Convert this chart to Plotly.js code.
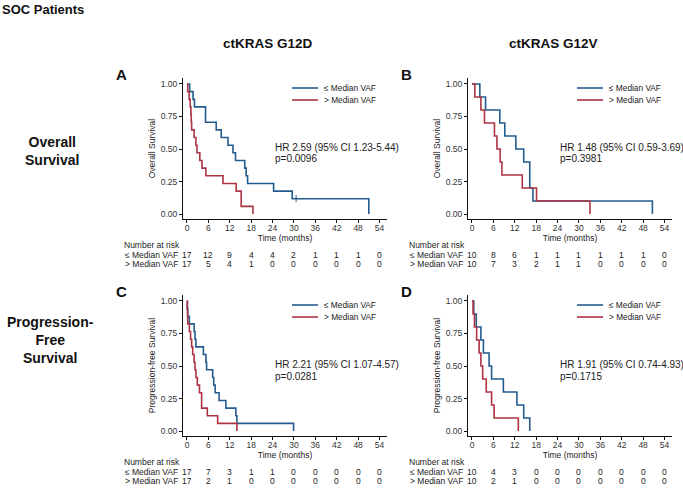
<!DOCTYPE html>
<html><head><meta charset="utf-8">
<script src="https://cdn.plot.ly/plotly-3.0.1.min.js"></script>
<style>html,body{margin:0;padding:0;background:#fff}#chart{width:683px;height:488px}</style>
</head><body><div id="chart"></div>
<script>
// ---------- data ----------
const timeTicks = [0, 6, 12, 18, 24, 30, 36, 42, 48, 54];
const survTicks = [0, 0.25, 0.5, 0.75, 1];
const groupNames = ['≤ Median VAF', '> Median VAF'];
const columnTitles = ['ctKRAS G12D', 'ctKRAS G12V'];
const rowTitles = ['Overall<br>Survival', 'Progression-<br>Free<br>Survival'];
const yTitles = ['Overall Survival', 'Progression-free Survival'];
const panelLetters = ['A', 'B', 'C', 'D'];

// Panel A: OS, ctKRAS G12D
const osG12D_low_t  = [0, 0.75, 1.7, 2.1, 5.2, 8.2, 9.6, 11.5, 12.9, 13.6, 16.2, 16.6, 17.0, 24.3, 29.5, 51.0];
const osG12D_low_s  = [1, 0.941, 0.882, 0.824, 0.706, 0.647, 0.588, 0.529, 0.471, 0.412, 0.353, 0.294, 0.235, 0.176, 0.118, 0];
const osG12D_low_censor_t = [30.6];
const osG12D_low_censor_s = [0.118];
const osG12D_high_t = [0, 0.2, 0.6, 0.9, 1.1, 1.2, 1.3, 2.0, 2.5, 2.8, 3.6, 4.2, 5.3, 10.1, 13.8, 15.2, 18.5];
const osG12D_high_s = [1, 0.941, 0.882, 0.824, 0.765, 0.706, 0.647, 0.588, 0.529, 0.471, 0.412, 0.353, 0.294, 0.235, 0.176, 0.059, 0];

// Panel B: OS, ctKRAS G12V
const osG12V_low_t  = [0, 2.2, 3.8, 7.8, 9.2, 12.3, 14.5, 16.2, 17.1, 50.6];
const osG12V_low_s  = [1, 0.9, 0.8, 0.7, 0.6, 0.5, 0.4, 0.2, 0.1, 0];
const osG12V_high_t = [0, 0.8, 2.5, 3.5, 6.3, 7.0, 7.9, 8.4, 14.1, 18.1, 33.1];
const osG12V_high_s = [1, 0.9, 0.8, 0.7, 0.6, 0.5, 0.4, 0.3, 0.2, 0.1, 0];

// Panel C: PFS, ctKRAS G12D
const pfsG12D_low_t  = [0, 0.1, 0.2, 0.66, 2.0, 2.25, 2.5, 4.6, 5.3, 5.5, 7.2, 7.5, 7.9, 9.0, 10.9, 13.7, 14.0, 29.9];
const pfsG12D_low_s  = [1, 0.941, 0.882, 0.824, 0.765, 0.706, 0.647, 0.588, 0.529, 0.471, 0.412, 0.353, 0.294, 0.235, 0.176, 0.118, 0.059, 0];
const pfsG12D_high_t = [0, 0.1, 0.15, 0.2, 0.66, 1.0, 1.3, 1.6, 2.0, 2.25, 2.5, 2.9, 3.5, 4.1, 5.7, 8.6, 14.0];
const pfsG12D_high_s = [1, 0.941, 0.882, 0.824, 0.765, 0.706, 0.647, 0.588, 0.529, 0.471, 0.412, 0.353, 0.294, 0.176, 0.118, 0.059, 0];

// Panel D: PFS, ctKRAS G12V
const pfsG12V_low_t  = [0, 0.5, 1.2, 2.5, 3.2, 4.8, 5.5, 8.8, 12.6, 14.5, 16.2];
const pfsG12V_low_s  = [1, 0.9, 0.8, 0.7, 0.6, 0.5, 0.4, 0.3, 0.2, 0.1, 0];
const pfsG12V_high_t = [0, 0.3, 0.7, 1.3, 2.0, 2.5, 3.0, 4.0, 5.5, 6.2, 13.0];
const pfsG12V_high_s = [1, 0.9, 0.8, 0.7, 0.6, 0.5, 0.4, 0.3, 0.2, 0.1, 0];

// Numbers at risk
const riskA_low  = [17, 12, 9, 4, 4, 2, 1, 1, 1, 0];
const riskA_high = [17, 5, 4, 1, 0, 0, 0, 0, 0, 0];
const riskB_low  = [10, 8, 6, 1, 1, 1, 1, 1, 1, 0];
const riskB_high = [10, 7, 3, 2, 1, 1, 0, 0, 0, 0];
const riskC_low  = [17, 7, 3, 1, 1, 0, 0, 0, 0, 0];
const riskC_high = [17, 2, 1, 0, 0, 0, 0, 0, 0, 0];
const riskD_low  = [10, 4, 3, 0, 0, 0, 0, 0, 0, 0];
const riskD_high = [10, 2, 1, 0, 0, 0, 0, 0, 0, 0];

// Statistics text
const hrText = ['HR 2.59 (95% CI 1.23-5.44)', 'HR 1.48 (95% CI 0.59-3.69)', 'HR 2.21 (95% CI 1.07-4.57)', 'HR 1.91 (95% CI 0.74-4.93)'];
const pText  = ['p=0.0096', 'p=0.3981', 'p=0.0281', 'p=0.1715'];

// ---------- build ----------
const W = 683, H = 488;
const px = v => v / W;
const py = v => 1 - v / H;
const BLUE = '#245b8e', RED = '#ad3442';
const FONT = 'Liberation Sans, Arial, Helvetica, sans-serif';

const panels = [
  {lowT: osG12D_low_t, lowS: osG12D_low_s, highT: osG12D_high_t, highS: osG12D_high_s, riskLow: riskA_low, riskHigh: riskA_high, dx: 0, dy: 0, row: 0},
  {lowT: osG12V_low_t, lowS: osG12V_low_s, highT: osG12V_high_t, highS: osG12V_high_s, riskLow: riskB_low, riskHigh: riskB_high, dx: 285, dy: 0, row: 0},
  {lowT: pfsG12D_low_t, lowS: pfsG12D_low_s, highT: pfsG12D_high_t, highS: pfsG12D_high_s, riskLow: riskC_low, riskHigh: riskC_high, dx: 0, dy: 217, row: 1},
  {lowT: pfsG12V_low_t, lowS: pfsG12V_low_s, highT: pfsG12V_high_t, highS: pfsG12V_high_s, riskLow: riskD_low, riskHigh: riskD_high, dx: 285, dy: 217, row: 1}
];

const traces = [];
const annotations = [];
const shapes = [];
const layout = {
  width: W, height: H,
  margin: {l: 0, r: 0, t: 0, b: 0},
  paper_bgcolor: '#fff', plot_bgcolor: '#fff',
  showlegend: false,
  font: {family: FONT, color: '#222', size: 9}
};

panels.forEach((p, i) => {
  const sfx = i === 0 ? '' : String(i + 1);
  const xr = 'x' + sfx, yr = 'y' + sfx;
  traces.push({x: p.lowT, y: p.lowS, xaxis: xr, yaxis: yr, type: 'scatter', mode: 'lines',
    line: {shape: 'hv', color: BLUE, width: 1.6}, name: groupNames[0], hoverinfo: 'skip'});
  traces.push({x: p.highT, y: p.highS, xaxis: xr, yaxis: yr, type: 'scatter', mode: 'lines',
    line: {shape: 'hv', color: RED, width: 1.6}, name: groupNames[1], hoverinfo: 'skip'});
  if (i === 0) {
    traces.push({x: osG12D_low_censor_t, y: osG12D_low_censor_s, xaxis: xr, yaxis: yr, type: 'scatter', mode: 'markers',
      marker: {symbol: 'line-ns', size: 5, color: BLUE, line: {color: BLUE, width: 1}}, hoverinfo: 'skip'});
  }
  layout['xaxis' + sfx] = {
    domain: [px(183 + p.dx), px(387 + p.dx)], range: [-1.12, 56.1], anchor: yr,
    tickvals: timeTicks, ticktext: timeTicks.map(String), ticks: 'outside', ticklen: 3, tickwidth: 1, tickcolor: '#111',
    ticklabelstandoff: -2,
    showline: true, linecolor: '#111', linewidth: 1, showgrid: false, zeroline: false,
    tickfont: {size: 8.5, color: '#333'},
    title: {text: 'Time (months)', font: {size: 8.5, color: '#222'}, standoff: 0}
  };
  layout['yaxis' + sfx] = {
    domain: [py(219 + p.dy), py(78 + p.dy)], range: [-0.038, 1.046], anchor: xr,
    tickvals: survTicks, tickformat: '.2f', ticks: 'outside', ticklen: 3, tickwidth: 1, tickcolor: '#111',
    showline: true, linecolor: '#111', linewidth: 1, showgrid: false, zeroline: false,
    tickfont: {size: 8.5, color: '#333'},
    title: {text: yTitles[p.row], font: {size: 8.5, color: '#222'}, standoff: 3}
  };
  // legend keys
  [[88, BLUE, groupNames[0]], [100, RED, groupNames[1]]].forEach(([yy, c, nm]) => {
    shapes.push({type: 'line', xref: 'paper', yref: 'paper', x0: px(292 + p.dx), x1: px(318 + p.dx),
      y0: py(yy + p.dy), y1: py(yy + p.dy), line: {color: c, width: 1.6}});
    annotations.push({xref: 'paper', yref: 'paper', x: px(322 + p.dx), y: py(yy + p.dy), text: nm,
      xanchor: 'left', yanchor: 'middle', showarrow: false, font: {size: 8.3, color: '#222'}});
  });
  // HR / p
  annotations.push({xref: 'paper', yref: 'paper', x: px(273 + p.dx), y: py(147 + p.dy), text: hrText[i],
    xanchor: 'left', yanchor: 'middle', showarrow: false, font: {size: 10, color: '#222'}});
  annotations.push({xref: 'paper', yref: 'paper', x: px(273 + p.dx), y: py(159 + p.dy), text: pText[i],
    xanchor: 'left', yanchor: 'middle', showarrow: false, font: {size: 10, color: '#222'}});
  // risk table
  annotations.push({xref: 'paper', yref: 'paper', x: px(122 + p.dx), y: py(245 + p.dy), text: 'Number at risk',
    xanchor: 'left', yanchor: 'middle', showarrow: false, font: {size: 8.5, color: '#222'}});
  [[255, groupNames[0], p.riskLow], [264, groupNames[1], p.riskHigh]].forEach(([yy, nm, arr]) => {
    annotations.push({xref: 'paper', yref: 'paper', x: px(123 + p.dx), y: py(yy + p.dy), text: nm,
      xanchor: 'left', yanchor: 'middle', showarrow: false, font: {size: 8.5, color: '#222'}});
    arr.forEach((v, k) => {
      annotations.push({xref: xr, yref: 'paper', x: timeTicks[k], y: py(yy + p.dy), text: String(v),
        xanchor: 'center', yanchor: 'middle', showarrow: false, font: {size: 8.5, color: '#222'}});
    });
  });
  // panel letter
  annotations.push({xref: 'paper', yref: 'paper', x: px(121 + p.dx), y: py(74 + p.dy), text: '<b>' + panelLetters[i] + '</b>',
    xanchor: 'center', yanchor: 'middle', showarrow: false, font: {size: 15, color: '#111'}});
});

// headers
annotations.push({xref: 'paper', yref: 'paper', x: 0, y: py(10), text: '<b>SOC Patients</b>',
  xanchor: 'left', yanchor: 'middle', showarrow: false, font: {size: 13, color: '#111'}});
annotations.push({xref: 'paper', yref: 'paper', x: px(268), y: py(44), text: '<b>' + columnTitles[0] + '</b>',
  xanchor: 'center', yanchor: 'middle', showarrow: false, font: {size: 13.5, color: '#111'}});
annotations.push({xref: 'paper', yref: 'paper', x: px(553), y: py(44), text: '<b>' + columnTitles[1] + '</b>',
  xanchor: 'center', yanchor: 'middle', showarrow: false, font: {size: 13.5, color: '#111'}});
annotations.push({xref: 'paper', yref: 'paper', x: px(52), y: py(151), text: '<b>' + rowTitles[0] + '</b>',
  xanchor: 'center', yanchor: 'middle', showarrow: false, font: {size: 14, color: '#111'}});
annotations.push({xref: 'paper', yref: 'paper', x: px(50), y: py(340), text: '<b>' + rowTitles[1] + '</b>',
  xanchor: 'center', yanchor: 'middle', showarrow: false, font: {size: 14, color: '#111'}});

layout.annotations = annotations;
layout.shapes = shapes;

Plotly.newPlot('chart', traces, layout, {staticPlot: true, displayModeBar: false});
</script>
</body></html>
